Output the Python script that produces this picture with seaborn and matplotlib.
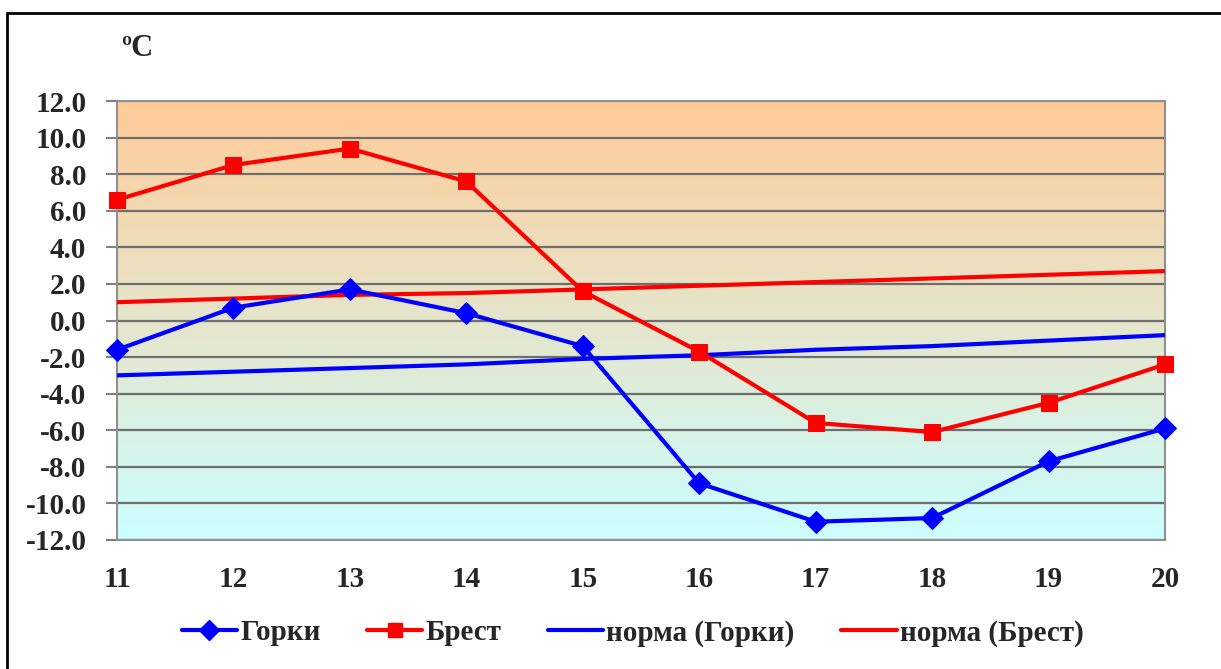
import numpy as np
import pandas as pd
import matplotlib
matplotlib.use('Agg')
import matplotlib.pyplot as plt
import seaborn as sns
import matplotlib.ticker as ticker
from matplotlib.colors import LinearSegmentedColormap
from matplotlib.lines import Line2D

# Data
days = [11, 12, 13, 14, 15, 16, 17, 18, 19, 20]
gorki = [-1.6, 0.7, 1.7, 0.4, -1.4, -8.9, -11.0, -10.8, -7.7, -5.9]
brest = [6.6, 8.5, 9.4, 7.6, 1.6, -1.7, -5.6, -6.1, -4.5, -2.4]
norm_gorki = [-3.0, -2.8, -2.6, -2.4, -2.1, -1.9, -1.6, -1.4, -1.1, -0.8]
norm_brest = [1.0, 1.2, 1.4, 1.5, 1.7, 1.9, 2.1, 2.3, 2.5, 2.7]
y_ticks = np.arange(-12, 13, 2)

sns.set_style('white')
plt.rcParams['font.family'] = ['Liberation Serif', 'DejaVu Serif']
plt.rcParams['font.weight'] = 'bold'

df = pd.DataFrame({'day': days, 'gorki': gorki, 'brest': brest,
                   'norm_gorki': norm_gorki, 'norm_brest': norm_brest})

fig = plt.figure(figsize=(12.21, 6.69), dpi=100)
ax = fig.add_axes([117/1221, 1 - 540/669, (1165-117)/1221, (540-101)/669])

# gradient background: orange on top, light cyan at bottom
cmap = LinearSegmentedColormap.from_list('bg', ['#CCFFFF', '#FFCC99'])
grad = np.linspace(0, 1, 256).reshape(-1, 1)
ax.imshow(grad, cmap=cmap, origin='lower', aspect='auto',
          extent=[11, 20, -12, 12], zorder=0)

for y in y_ticks:
    ax.axhline(y, color='#6e6e6e', lw=1.6, zorder=1)

sns.lineplot(data=df, x='day', y='norm_gorki', color='#0000FF', lw=3, ax=ax, zorder=3)
sns.lineplot(data=df, x='day', y='norm_brest', color='#FF0000', lw=3, ax=ax, zorder=3)
sns.lineplot(data=df, x='day', y='gorki', color='#0000FF', lw=3, marker='D',
             markersize=11, markeredgecolor='#0000FF', ax=ax, zorder=4, clip_on=False)
sns.lineplot(data=df, x='day', y='brest', color='#FF0000', lw=3, marker='s',
             markersize=11, markeredgecolor='#FF0000', ax=ax, zorder=4, clip_on=False)

ax.set_xlim(11, 20)
ax.set_ylim(-12, 12)
ax.set_xticks(days)
ax.set_yticks(y_ticks)
ax.yaxis.set_major_formatter(ticker.FuncFormatter(lambda v, p: f'{v:.1f}'))
ax.set_xlabel('')
ax.set_ylabel('')
ax.tick_params(axis='y', labelsize=21, length=8, color='#808080', width=1.5, left=True, pad=14)
ax.tick_params(axis='x', labelsize=21, length=0, pad=19)
for s in ax.spines.values():
    s.set_color('#909090')
    s.set_linewidth(1.5)

fig.text(121/1221, 1 - 48/669, 'ºC', fontsize=22, fontweight='bold', va='center')

handles = [
    Line2D([], [], color='#0000FF', lw=3, marker='D', markersize=10),
    Line2D([], [], color='#FF0000', lw=3, marker='s', markersize=10),
    Line2D([], [], color='#0000FF', lw=3),
    Line2D([], [], color='#FF0000', lw=3),
]
labels = ['Горки', 'Брест', 'норма (Горки)', 'норма (Брест)']
fig.legend(handles, labels, loc='center', bbox_to_anchor=(0.518, 1 - 633/669), ncol=4,
           frameon=False, fontsize=21, handlelength=1.9, handletextpad=0.1,
           columnspacing=1.6)

# outer frame
fig.add_artist(Line2D([7/1221, 7/1221], [0, 1 - 13/669], color='black', lw=2))
fig.add_artist(Line2D([7/1221, 1], [1 - 13/669, 1 - 13/669], color='black', lw=2))

fig.savefig('out.png', dpi=100)
